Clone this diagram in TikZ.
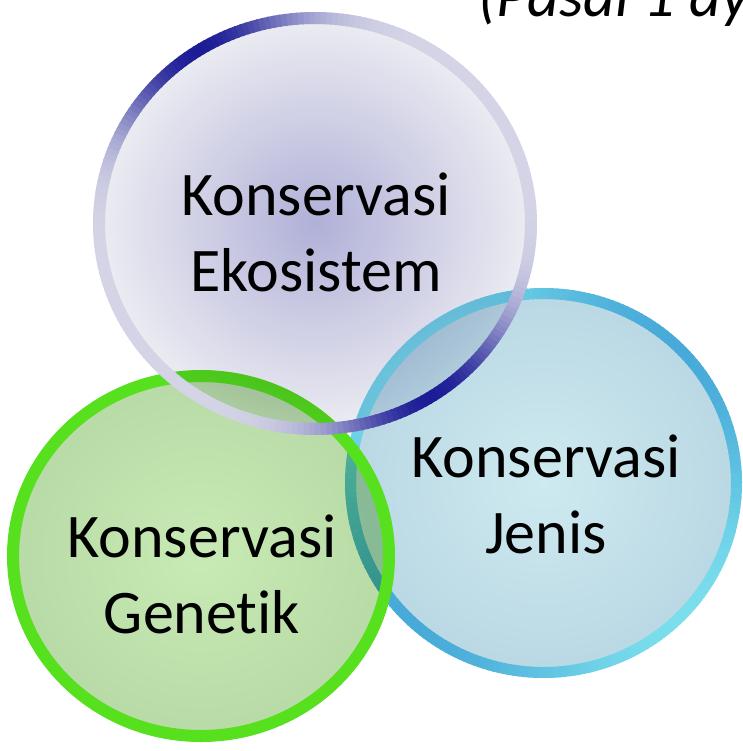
\documentclass[tikz,border=0pt]{standalone}
\usepackage{fontspec}
\setmainfont{Carlito}[Ligatures=NoCommon]

\definecolor{ekonavy}{HTML}{1C1C96}
\definecolor{ekolight}{HTML}{D4D4E6}
\definecolor{ekocenter}{HTML}{B0B0D8}
\definecolor{ekoouter}{HTML}{ECECF2}
\definecolor{genring}{HTML}{56E01E}
\definecolor{gencenter}{HTML}{C8EAB4}
\definecolor{genouter}{HTML}{B8DAA6}
\definecolor{jenlight}{HTML}{7ADEEC}
\definecolor{jendark}{HTML}{48AAD8}
\definecolor{jencenter}{HTML}{CEEAF0}
\definecolor{jenouter}{HTML}{BAD8E4}

\tikzset{
  label text/.style={font=\fontsize{62}{76}\selectfont, align=center, inner sep=0},
}

\begin{document}
\begin{tikzpicture}[x=1pt,y=1pt]
      \useasboundingbox (0,0) rectangle (742,-751);
      \clip (0,0) rectangle (742,-751);

      \coordinate (eko) at (315,-223.5);
      \coordinate (gen) at (201,-556);
      \coordinate (jen) at (543.5,-483);

      % jenis
      \shade[inner color=jencenter, outer color=jenouter] (jen) ellipse [x radius=193, y radius=189.5];
      \foreach \a in {0,1.5,...,358.5} {
        \pgfmathsetmacro{\f}{100*abs(cos(\a-135))^2}
        \draw[line width=11, jenlight!\f!jendark] (jen) ++(\a:193 and 189.5)
          arc[start angle=\a, end angle=\a+2, x radius=193, y radius=189.5];
      }

      % genetik
      \begin{scope}[blend mode=multiply]
        \shade[inner color=gencenter, outer color=genouter] (gen) ellipse [x radius=188, y radius=180];
      \end{scope}
      \draw[line width=12, genring] (gen) ellipse [x radius=188, y radius=180];

      % ekosistem
      \begin{scope}[blend mode=multiply]
        \shade[inner color=ekocenter, outer color=ekoouter] (eko) ellipse [x radius=216, y radius=205.5];
      \end{scope}
      \foreach \a in {0,1.5,...,358.5} {
        \pgfmathsetmacro{\f}{100*abs(cos(\a-122))^8}
        \draw[line width=12, ekonavy!\f!ekolight] (eko) ++(\a:216 and 205.5)
          arc[start angle=\a, end angle=\a+2, x radius=216, y radius=205.5];
      }

      \node[label text] (eko-text) at (316,-232) {Konservasi\\Ekosistem};
      \node[label text] (gen-text) at (202,-574) {Konservasi\\Genetik};
      \node[label text] (jen-text) at (546,-494) {Konservasi\\Jenis};

      \node[anchor=base west, inner sep=0, font=\fontsize{62}{76}\selectfont\itshape] (pasal) at (478,-17) {(Pasal 1 ay};
    \end{tikzpicture}
\end{document}
